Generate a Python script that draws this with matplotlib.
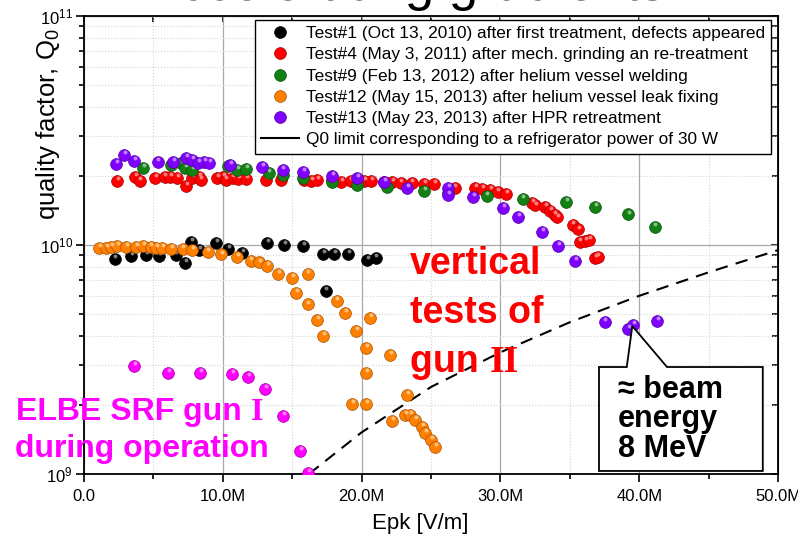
import numpy as np
import matplotlib
matplotlib.use("Agg")
import matplotlib.pyplot as plt
from matplotlib.lines import Line2D
from matplotlib.patches import Polygon
from matplotlib.transforms import offset_copy
from matplotlib.colors import to_rgb

plt.rcParams['font.family'] = ['Liberation Sans', 'DejaVu Sans']
plt.rcParams['mathtext.fontset'] = 'custom'
plt.rcParams['mathtext.rm'] = 'Liberation Sans'
plt.rcParams['mathtext.it'] = 'Liberation Sans:italic'
plt.rcParams['mathtext.bf'] = 'Liberation Sans:bold'

# ---------------- data (Epk in MV/m, Q0) ----------------
black_x = [2.2, 3.4, 4.5, 5.4, 6.6, 7.3, 7.7, 8.3, 9.5, 10.4, 11.4, 13.2, 14.4, 15.8, 17.2, 17.4, 18.0, 19.0, 20.4, 21.0]
black_q = [8.7e9, 8.96e9, 9.04e9, 8.96e9, 9.04e9, 8.34e9, 1.03e10, 9.5e9, 1.02e10, 9.6e9,
           9.23e9, 1.02e10, 1.0e10, 9.9e9, 9.13e9, 6.3e9, 9.13e9, 9.13e9, 8.6e9, 8.77e9]

red_x = [2.4, 3.7, 4.0, 5.1, 5.8, 6.2, 6.7, 7.35, 7.8, 8.3, 8.4, 9.6, 10.0, 10.2, 10.7, 11.1, 11.7, 13.1,
         14.2, 15.85, 16.35, 16.8, 17.9, 18.5, 19.2, 20.2, 20.7, 21.6, 22.2, 22.8, 23.6, 24.5, 25.2, 26.7,
         28.2, 28.7, 29.25, 29.8, 30.4, 32.3, 32.5, 33.2, 33.6, 33.9, 34.1, 35.2, 35.6, 35.7, 36.1, 36.4,
         36.8, 37.0]
red_q = [1.90e10, 1.98e10, 1.90e10, 1.96e10, 1.98e10, 1.98e10, 1.96e10, 1.81e10, 1.96e10, 1.98e10,
         1.92e10, 1.96e10, 1.98e10, 1.92e10, 1.96e10, 1.94e10, 1.94e10, 1.92e10, 1.92e10, 1.92e10,
         1.90e10, 1.92e10, 1.92e10, 1.88e10, 1.90e10, 1.90e10, 1.90e10, 1.88e10, 1.88e10, 1.87e10,
         1.87e10, 1.85e10, 1.85e10, 1.78e10, 1.78e10, 1.76e10, 1.74e10, 1.70e10, 1.67e10, 1.53e10,
         1.49e10, 1.47e10, 1.41e10, 1.35e10, 1.32e10, 1.22e10, 1.17e10, 1.03e10, 1.04e10, 1.05e10,
         8.77e9, 8.86e9]

green_x = [4.25, 6.3, 7.0, 7.3, 7.8, 10.4, 11.0, 11.7, 13.3, 14.3, 15.8, 17.9, 19.7, 21.8, 24.5, 26.2,
           29.0, 31.6, 34.7, 36.8, 39.2, 41.1]
green_q = [2.17e10, 2.24e10, 2.27e10, 2.17e10, 2.13e10, 2.21e10, 2.13e10, 2.15e10, 2.06e10, 2.02e10,
           1.96e10, 1.88e10, 1.83e10, 1.79e10, 1.72e10, 1.68e10, 1.64e10, 1.59e10, 1.54e10, 1.47e10,
           1.36e10, 1.20e10]

orange_x = [1.1, 1.6, 1.95, 2.4, 3.0, 3.75, 4.25, 4.8, 5.2, 5.6, 6.3, 7.1, 7.8, 8.9, 9.9, 11.0, 12.0,
            12.6, 13.2, 14.0, 15.0, 16.1, 15.3, 16.1, 16.8, 17.2, 18.2, 18.8, 19.6, 20.6, 20.3, 20.3,
            19.3, 20.3, 22.05, 22.2, 23.3, 23.1, 23.5, 23.85, 24.35, 24.6, 25.0, 25.3]
orange_q = [9.7e9, 9.7e9, 9.8e9, 9.9e9, 9.8e9, 9.8e9, 9.9e9, 9.8e9, 9.7e9, 9.7e9, 9.6e9, 9.6e9, 9.5e9,
            9.3e9, 9.1e9, 8.9e9, 8.5e9, 8.4e9, 8.1e9, 7.5e9, 7.2e9, 7.5e9, 6.2e9, 5.5e9, 4.7e9, 4.0e9,
            5.7e9, 5.05e9, 4.2e9, 4.8e9, 3.55e9, 2.76e9, 2.02e9, 2.02e9, 3.3e9, 1.70e9, 2.21e9, 1.81e9,
            1.81e9, 1.72e9, 1.60e9, 1.51e9, 1.41e9, 1.31e9]

purple_x = [2.3, 2.9, 3.6, 5.3, 6.4, 7.35, 7.8, 8.2, 8.65, 9.0, 10.5, 12.8, 14.3, 15.8, 17.9, 19.7,
            21.6, 23.3, 26.2, 26.2, 28.0, 30.2, 31.3, 33.0, 34.15, 35.4, 37.5, 39.2, 39.55, 41.3]
purple_q = [2.26e10, 2.47e10, 2.33e10, 2.30e10, 2.30e10, 2.40e10, 2.35e10, 2.28e10, 2.30e10, 2.28e10,
            2.24e10, 2.19e10, 2.13e10, 2.09e10, 2.00e10, 1.96e10, 1.88e10, 1.77e10, 1.77e10, 1.65e10,
            1.62e10, 1.45e10, 1.33e10, 1.14e10, 9.9e9, 8.51e9, 4.62e9, 4.30e9, 4.48e9, 4.66e9]

elbe_x = [3.6, 6.05, 8.35, 10.65, 11.8, 13.05, 14.35, 15.55, 16.15]
elbe_q = [2.97e9, 2.76e9, 2.76e9, 2.73e9, 2.65e9, 2.35e9, 1.79e9, 1.26e9, 1.01e9]

limit_x = [16.2, 20, 25, 30, 35, 40, 45, 50]
limit_q = [1.0e9, 1.52e9, 2.4e9, 3.4e9, 4.6e9, 6.0e9, 7.6e9, 9.5e9]

labels = ["Test#1 (Oct 13, 2010) after first treatment, defects appeared",
          "Test#4 (May 3, 2011) after mech. grinding an re-treatment",
          "Test#9 (Feb 13, 2012) after helium vessel welding",
          "Test#12 (May 15, 2013) after helium vessel leak fixing",
          "Test#13 (May 23, 2013) after HPR retreatment",
          "Q0 limit corresponding to a refrigerator power of 30 W"]
xticks = [0, 10, 20, 30, 40, 50]
xtick_labels = ["0.0", "10.0M", "20.0M", "30.0M", "40.0M", "50.0M"]

colors = {'black': '#000000', 'red': '#ff0000', 'green': '#138013',
          'orange': '#ff8000', 'purple': '#8000ff', 'magenta': '#ff00ff'}

fig = plt.figure(figsize=(7.98, 5.39), dpi=100)
ax = fig.add_axes([0.1053, 0.1206, 0.8697, 0.8497])


def shade(c, f):
    r, g, b = to_rgb(c)
    return (r * f, g * f, b * f)


def balls(x, y, c, z):
    # ball marker with a small highlight, like the Origin 3D spheres
    ax.scatter(x, y, s=72, color=c, edgecolor=shade(c, 0.65), linewidth=0.5, zorder=z)
    hl = offset_copy(ax.transData, fig=fig, x=0.6, y=2.0, units='points')
    r, g, b = to_rgb(c)
    light = (0.5 + 0.5 * r, 0.5 + 0.5 * g, 0.5 + 0.5 * b)
    ax.scatter(x, y, s=8, color=light, linewidth=0, transform=hl, zorder=z + 0.1)


balls(black_x, black_q, colors['black'], 3)
balls(red_x, red_q, colors['red'], 4)
balls(green_x, green_q, colors['green'], 5)
balls(orange_x, orange_q, colors['orange'], 6)
balls(purple_x, purple_q, colors['purple'], 7)
balls(elbe_x, elbe_q, colors['magenta'], 3)
ax.plot(limit_x, limit_q, color='black', lw=1.5, ls=(0, (6, 4)), zorder=2)

ax.set_yscale('log')
ax.set_xlim(0, 50)
ax.set_ylim(1e9, 1e11)
ax.set_xticks(xticks)
ax.set_xticklabels(xtick_labels)
ax.set_xticks([5, 15, 25, 35, 45], minor=True)
ax.grid(which='major', color='#a8a8a8', lw=0.9, ls='-')
ax.grid(which='minor', color='#d4d4d4', lw=0.8, ls=':')
ax.set_axisbelow(True)
ax.tick_params(which='both', direction='out', labelsize=12, width=1.2, colors='black')
ax.tick_params(which='major', length=6)
ax.tick_params(which='minor', length=3.5)
ax.tick_params(axis='x', pad=5)
ax.tick_params(axis='y', pad=2)
for s in ax.spines.values():
    s.set_linewidth(1.3)

# inward ticks on top and right
sx = ax.secondary_xaxis('top')
sx.set_xticks(xticks)
sx.set_xticks([5, 15, 25, 35, 45], minor=True)
sx.tick_params(which='both', direction='in', labeltop=False, width=1.2)
sx.tick_params(which='major', length=4)
sx.tick_params(which='minor', length=4)
sy = ax.secondary_yaxis('right')
sy.tick_params(which='both', direction='in', labelright=False, width=1.2)
sy.tick_params(which='major', length=5)
sy.tick_params(which='minor', length=4)

ax.set_xlabel("Epk [V/m]", fontsize=16)
ax.xaxis.set_label_coords(0.484, -0.085)
ax.xaxis.label.set_va('top')
ax.set_ylabel("quality factor, Q$_0$", fontsize=18.5)
ax.yaxis.set_label_coords(-0.032, 0.764)

# legend
handles = []
for key in ['black', 'red', 'green', 'orange', 'purple']:
    c = colors[key]
    handles.append(Line2D([], [], ls='none', marker='o', ms=8.5, mfc=c, mec=shade(c, 0.65), mew=0.5))
handles.append(Line2D([], [], color='black', lw=1.5))
leg = ax.legend(handles, labels, loc='upper right', bbox_to_anchor=(0.99, 0.991), borderaxespad=0,
                fontsize=12.4, handlelength=2.2, handletextpad=0.4, borderpad=0.35,
                labelspacing=0.36, fancybox=False, framealpha=1, edgecolor='black')
leg.get_frame().set_linewidth(1.0)
leg.set_zorder(10)

# title remnant cut by the top edge
fig.text(0.5075, 1.0, "Accelerating gradients", ha='center', va='baseline', fontsize=38)

# red annotation
red_lines = ["vertical", "tests of", "gun "]
red_base = [0.4367, 0.3297, 0.2227]
for t, yb in zip(red_lines, red_base):
    last = ax.text(0.470, yb, t, transform=ax.transAxes, color='red', fontsize=27,
                   fontweight='bold', va='baseline', ha='left', zorder=9)

# magenta annotation
mag_lines = ["ELBE SRF gun ", "during operation"]
mag_base = [0.1179, 0.0371]
mag_x = [-0.098, -0.1]
mags = []
for t, yb, xx in zip(mag_lines, mag_base, mag_x):
    mags.append(ax.text(xx, yb, t, transform=ax.transAxes, color=colors['magenta'], fontsize=23,
                        fontweight='bold', va='baseline', ha='left', zorder=9))

# callout box
box = Polygon([(0.742, 0.0066), (0.978, 0.0066), (0.978, 0.2336), (0.840, 0.2336),
               (0.790, 0.323), (0.782, 0.2336), (0.742, 0.2336)], closed=True,
              transform=ax.transAxes, facecolor='white', edgecolor='black', lw=1.3, zorder=8)
ax.add_patch(box)
call_lines = ["≈ beam", "energy", "8 MeV"]
call_base = [0.166, 0.1026, 0.0371]
for t, yb in zip(call_lines, call_base):
    ax.text(0.769, yb, t, transform=ax.transAxes, color='black', fontsize=22,
            fontweight='bold', va='baseline', ha='left', zorder=9)

# roman numerals in serif, placed right after the sans text
fig.canvas.draw()
r = fig.canvas.get_renderer()
inv = ax.transAxes.inverted()
ext = last.get_window_extent(r)
xr = inv.transform((ext.x1, 0))[0]
ax.text(xr, red_base[-1], "II", transform=ax.transAxes, color='red', fontsize=27,
        fontweight='bold', family='Liberation Serif', va='baseline', ha='left', zorder=9)
ext = mags[0].get_window_extent(r)
xm = inv.transform((ext.x1, 0))[0]
ax.text(xm, mag_base[0], "I", transform=ax.transAxes, color=colors['magenta'], fontsize=23,
        fontweight='bold', family='Liberation Serif', va='baseline', ha='left', zorder=9)

fig.savefig("out.png", dpi=100)
